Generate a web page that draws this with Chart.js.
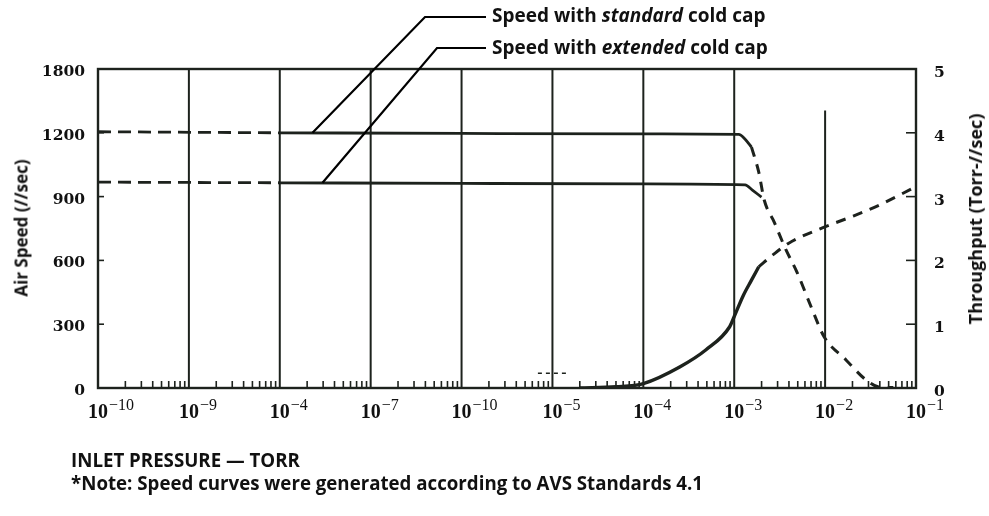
<!DOCTYPE html>
<html>
<head>
<meta charset="utf-8">
<script src="https://cdn.jsdelivr.net/npm/chart.js@4.4.0/dist/chart.umd.min.js"></script>
<style>
  body { margin: 0; background: #fff; }
  #wrap { position: relative; width: 989px; height: 516px; }
  .txt { position: absolute; font-family: "Open Sans", sans-serif; font-weight: bold; color: #111; white-space: nowrap; line-height: 1; }
  .rot { transform: translate(-50%, -50%) rotate(-90deg); }
</style>
</head>
<body>
<div id="wrap">
  <canvas id="chart"></canvas>
  <div class="txt" style="left:492px;top:6px;font-size:19px">Speed with <i>standard</i> cold cap</div>
  <div class="txt" style="left:492px;top:38px;font-size:19px">Speed with <i>extended</i> cold cap</div>
  <div class="txt rot" style="left:21px;top:228px;font-size:17px">Air Speed (//sec)</div>
  <div class="txt rot" style="left:975px;top:219px;font-size:18px">Throughput (Torr-//sec)</div>
  <div class="txt" style="left:71px;top:451px;font-size:18.7px">INLET PRESSURE — TORR</div>
  <div class="txt" style="left:71px;top:474px;font-size:18.7px">*Note: Speed curves were generated according to AVS Standards 4.1</div>
</div>
<script>
var ink = '#1d221d';

// exponents printed under each decade line (as they appear on the original scan)
var decadeLabels = ['-10', '-9', '-4', '-7', '-10', '-5', '-4', '-3', '-2', '-1'];
var speedTickLabels = ['0', '300', '600', '900', '1200', '1800'];

// x is counted in decades from the left edge of the plot
var stdLowX = [0, 2];
var stdLowY = [1205, 1200];
var stdX = [2, 4, 6, 7.05, 7.12, 7.19];
var stdY = [1200, 1197, 1195, 1193, 1170, 1133];

var extLowX = [0, 2];
var extLowY = [968, 965];
var extX = [2, 4, 6, 7.12, 7.2, 7.3];
var extY = [965, 962, 960, 955, 930, 898];

var dropX = [7.19, 7.27, 7.33, 7.44, 7.57, 7.69, 7.86, 7.99, 8.23, 8.45, 8.59, 8.75];
var dropY = [1133, 1015, 884, 780, 649, 545, 367, 240, 132, 38, 5, 2];

var tputX = [5.3, 5.7, 6.0, 6.4, 6.69, 6.95, 7.0, 7.1, 7.19, 7.27];
var tputY = [0, 0.02, 0.07, 0.33, 0.6, 0.96, 1.12, 1.45, 1.69, 1.9];
var tputHighX = [7.27, 7.42, 7.6, 7.97, 8.3, 8.6, 8.95];
var tputHighY = [1.9, 2.08, 2.27, 2.51, 2.69, 2.87, 3.12];

var strayX = [4.84, 5.19];
var strayY = [0.23, 0.23];


function pts(xs, ys) {
  var out = [];
  for (var i = 0; i < xs.length; i++) {
    out.push({x: xs[i], y: ys[i]});
  }
  return out;
}

function line(xs, ys, axis, dash, width) {
  return {
    data: pts(xs, ys),
    yAxisID: axis,
    borderColor: ink,
    borderWidth: width || 2.8,
    borderDash: dash || [],
    pointRadius: 0,
    fill: false,
    cubicInterpolationMode: 'monotone'
  };
}

var framePlugin = {
  id: 'frame',
  beforeDatasetsDraw: function(chart) {
    var ctx = chart.ctx;
    var a = chart.chartArea;
    var x = chart.scales.x;
    var y = chart.scales.y;
    var y1 = chart.scales.y1;
    ctx.save();
    ctx.strokeStyle = ink;
    ctx.lineWidth = 2;
    for (var i = 1; i < 9; i++) {
      var px = x.getPixelForValue(i);
      var top = (i === 8) ? y.getPixelForValue(1305) : a.top;
      ctx.beginPath();
      ctx.moveTo(px, top);
      ctx.lineTo(px, a.bottom);
      ctx.stroke();
    }
    ctx.lineWidth = 2.4;
    ctx.strokeRect(a.left, a.top, a.right - a.left, a.bottom - a.top);

    // minor decade ticks along the bottom
    ctx.lineWidth = 1.6;
    for (var d = 0; d < 9; d++) {
      for (var k = 2; k < 10; k++) {
        var mx = x.getPixelForValue(d + Math.log10(k));
        ctx.beginPath();
        ctx.moveTo(mx, a.bottom);
        ctx.lineTo(mx, a.bottom - 7);
        ctx.stroke();
      }
    }
    // inner ticks on both value axes
    for (var v = 1; v < 5; v++) {
      var py = y1.getPixelForValue(v);
      ctx.beginPath();
      ctx.moveTo(a.right, py);
      ctx.lineTo(a.right - 10, py);
      ctx.stroke();
      var ly = y.getPixelForValue(v * 300);
      ctx.beginPath();
      ctx.moveTo(a.left, ly);
      ctx.lineTo(a.left + 6, ly);
      ctx.stroke();
    }
    ctx.restore();
  },
  afterDraw: function(chart) {
    var ctx = chart.ctx;
    var a = chart.chartArea;
    var x = chart.scales.x;
    var y = chart.scales.y;
    ctx.save();
    ctx.strokeStyle = '#000';
    ctx.lineWidth = 2.2;
    ctx.beginPath();
    ctx.moveTo(486, 17);
    ctx.lineTo(425, 17);
    ctx.lineTo(x.getPixelForValue(2.36), y.getPixelForValue(1200));
    ctx.stroke();
    ctx.beginPath();
    ctx.moveTo(486, 48);
    ctx.lineTo(437, 48);
    ctx.lineTo(x.getPixelForValue(2.47), y.getPixelForValue(965));
    ctx.stroke();

    // x labels: 10 with a raised exponent
    ctx.fillStyle = '#111';
    ctx.textBaseline = 'alphabetic';
    for (var i = 0; i < decadeLabels.length; i++) {
      var px = x.getPixelForValue(i);
      ctx.font = 'bold 20px "Liberation Serif"';
      var w = ctx.measureText('10').width;
      ctx.textAlign = 'left';
      ctx.fillText('10', px - w / 2, a.bottom + 30);
      ctx.font = '16px "Liberation Serif"';
      ctx.fillText(decadeLabels[i].replace('-', '\u2212'), px + w / 2 + 1, a.bottom + 22);
    }
    ctx.restore();
  }
};

document.addEventListener('DOMContentLoaded', function() {
  new Chart(document.getElementById('chart'), {
    type: 'line',
    data: {
      datasets: [
        line(stdLowX, stdLowY, 'y', [13, 7]),
        line(stdX, stdY, 'y'),
        line(extLowX, extLowY, 'y', [13, 7]),
        line(extX, extY, 'y'),
        line(dropX, dropY, 'y', [10, 8], 3),
        line(tputX, tputY, 'y1', [], 3.4),
        line(tputHighX, tputHighY, 'y1', [10, 8], 3),
        line(strayX, strayY, 'y1', [4, 4], 1.5)
      ]
    },
    plugins: [framePlugin],
    options: {
      responsive: true,
      maintainAspectRatio: false,
      animation: false,
      layout: {
        padding: {top: 69, left: 0, right: 0, bottom: 0}
      },
      plugins: {
        legend: {display: false},
        tooltip: {enabled: false}
      },
      scales: {
        x: {
          type: 'linear',
          min: 0,
          max: 9,
          grid: {display: false},
          border: {display: false},
          ticks: {display: false},
          afterFit: function(s) { s.height = 128; }
        },
        y: {
          position: 'left',
          min: 0,
          max: 1500,
          grid: {display: false, drawTicks: false},
          border: {display: false},
          ticks: {
            stepSize: 300,
            padding: 13,
            labelOffset: 3,
            color: '#111',
            font: {family: 'DejaVu Serif', weight: 'bold', size: 15.5},
            callback: function(v) { return speedTickLabels[v / 300]; }
          },
          afterFit: function(s) { s.width = 98; }
        },
        y1: {
          position: 'right',
          min: 0,
          max: 5,
          grid: {display: false, drawTicks: false},
          border: {display: false},
          ticks: {
            stepSize: 1,
            padding: 18,
            labelOffset: 4,
            color: '#111',
            font: {family: 'DejaVu Serif', weight: 'bold', size: 15.5}
          },
          afterFit: function(s) { s.width = 73; }
        }
      }
    }
  });
});
</script>
</body>
</html>
